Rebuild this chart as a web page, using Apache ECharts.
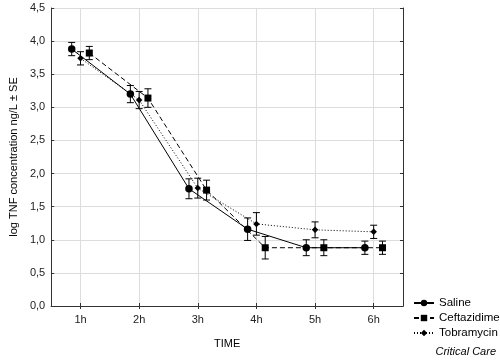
<!DOCTYPE html>
<html>
<head>
<meta charset="utf-8">
<script src="https://cdn.jsdelivr.net/npm/echarts@6/dist/echarts.min.js"></script>
<style>
  html, body { margin: 0; padding: 0; background: #fff; }
  #chart { width: 500px; height: 360px; }
</style>
</head>
<body>
<div id="chart"></div>
<script>
// time points (hours) and their labels
const hours = [1, 2, 3, 4, 5, 6];
const hourLabels = ['1h', '2h', '3h', '4h', '5h', '6h'];

// mean log TNF and SE per group
const saline = [3.88, 3.20, 1.77, 1.16, 0.88, 0.88];
const salineSE = [0.10, 0.13, 0.15, 0.17, 0.12, 0.10];
const ceftazidime = [3.82, 3.14, 1.75, 0.88, 0.88, 0.88];
const ceftazidimeSE = [0.10, 0.14, 0.15, 0.17, 0.12, 0.10];
const tobramycin = [3.74, 3.11, 1.78, 1.24, 1.15, 1.12];
const tobramycinSE = [0.10, 0.13, 0.15, 0.17, 0.12, 0.10];

const font = 'Liberation Sans, Arial, sans-serif';

// groups are drawn side by side around each hour
const groups = [
    { name: 'Saline', values: saline, se: salineSE, shift: -0.15, symbol: 'circle', size: 7.5, line: 'solid' },
    { name: 'Ceftazidime', values: ceftazidime, se: ceftazidimeSE, shift: 0.15, symbol: 'rect', size: 7, line: [5, 3] },
    { name: 'Tobramycin', values: tobramycin, se: tobramycinSE, shift: 0, symbol: 'diamond', size: 6.5, line: [1, 2] }
];

const chart = echarts.init(document.getElementById('chart'));

function errorBar(params, api) {
    const x = api.value(0);
    const lo = api.coord([x, api.value(1)]);
    const hi = api.coord([x, api.value(2)]);
    const w = 3.5;
    const style = { stroke: '#000', lineWidth: 1 };
    return {
        type: 'group',
        children: [
            { type: 'line', shape: { x1: lo[0], y1: lo[1], x2: hi[0], y2: hi[1] }, style },
            { type: 'line', shape: { x1: lo[0] - w, y1: lo[1], x2: lo[0] + w, y2: lo[1] }, style },
            { type: 'line', shape: { x1: hi[0] - w, y1: hi[1], x2: hi[0] + w, y2: hi[1] }, style }
        ]
    };
}

const series = [];
groups.forEach(g => {
    series.push({
        type: 'custom',
        name: g.name + ' SE',
        renderItem: errorBar,
        data: g.values.map((v, i) => [hours[i] + g.shift, v - g.se[i], v + g.se[i]]),
        z: 2,
        silent: true
    });
});
groups.forEach(g => {
    series.push({
        type: 'line',
        name: g.name,
        data: g.values.map((v, i) => [hours[i] + g.shift, v]),
        symbol: g.symbol,
        symbolSize: g.size,
        showSymbol: true,
        lineStyle: { color: '#000', width: 1, type: g.line },
        itemStyle: { color: '#000' },
        z: 3
    });
});

const option = {
    animation: false,
    backgroundColor: '#fff',
    grid: { left: 46, right: 97, top: 8, bottom: 54 },
    legend: {
        data: groups.map(g => g.name),
        orient: 'vertical',
        left: 408,
        top: 292,
        itemWidth: 20,
        itemHeight: 8,
        itemGap: 3,
        textStyle: { fontFamily: font, fontSize: 11.5, color: '#000' }
    },
    xAxis: [{
        type: 'value',
        min: 0.5,
        max: 6.5,
        name: 'TIME',
        nameLocation: 'middle',
        nameGap: 32,
        nameTextStyle: { fontFamily: font, fontSize: 11, color: '#000' },
        axisLine: { show: true, lineStyle: { color: '#333', width: 1 } },
        axisTick: { show: true, inside: true, length: 3, customValues: hours, lineStyle: { color: '#333' } },
        axisLabel: {
            customValues: hours,
            formatter: v => hourLabels[hours.indexOf(v)],
            fontFamily: font, fontSize: 11, color: '#222', margin: 8
        },
        splitLine: { show: true, lineStyle: { color: '#ddd', width: 1 } }
    }, {
        type: 'value',
        position: 'top',
        min: 0.5,
        max: 6.5,
        axisLine: { show: true, lineStyle: { color: '#333', width: 1 } },
        axisTick: { show: true, inside: true, length: 3, customValues: hours, lineStyle: { color: '#333' } },
        axisLabel: { show: false },
        splitLine: { show: false }
    }],
    yAxis: [{
        type: 'value',
        min: 0,
        max: 4.5,
        interval: 0.5,
        name: 'log TNF concentration ng/L \u00b1 SE',
        nameLocation: 'middle',
        nameGap: 32,
        nameTextStyle: { fontFamily: font, fontSize: 11, color: '#000' },
        axisLine: { show: true, lineStyle: { color: '#333', width: 1 } },
        axisTick: { show: true, inside: true, length: 3, lineStyle: { color: '#333' } },
        axisLabel: {
            formatter: v => v.toFixed(1).replace('.', ','),
            fontFamily: font, fontSize: 11, color: '#222', margin: 6
        },
        splitLine: { show: true, lineStyle: { color: '#ddd', width: 1 } }
    }, {
        type: 'value',
        position: 'right',
        min: 0,
        max: 4.5,
        interval: 0.5,
        axisLine: { show: true, lineStyle: { color: '#333', width: 1 } },
        axisTick: { show: true, inside: true, length: 3, lineStyle: { color: '#333' } },
        axisLabel: { show: false },
        splitLine: { show: false }
    }],
    graphic: [{
        type: 'text',
        right: 4,
        top: 346,
        style: { text: 'Critical Care', font: 'italic 11px ' + font, fill: '#000' }
    }],
    series: series
};

chart.setOption(option);
</script>
</body>
</html>
